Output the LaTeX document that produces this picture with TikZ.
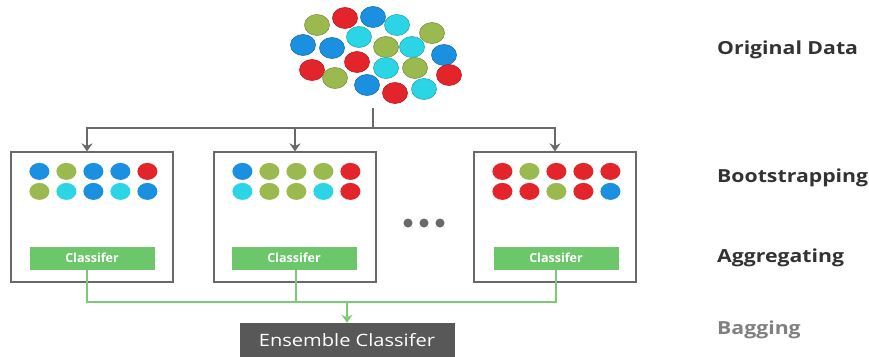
\documentclass[tikz,border=0pt]{standalone}
\usepackage{fontspec}
\setmainfont{Open Sans}
\newfontfamily\stagefont[FakeStretch=1.18]{Open Sans}
\usetikzlibrary{arrows.meta}
\definecolor{dblue}{RGB}{27,143,224}
\definecolor{dred}{RGB}{227,36,43}
\definecolor{dgreen}{RGB}{154,185,79}
\definecolor{dcyan}{RGB}{43,213,230}
\definecolor{clfgreen}{RGB}{108,199,106}
\definecolor{linegreen}{RGB}{122,203,120}
\definecolor{ensgray}{RGB}{88,88,88}
\definecolor{framegray}{RGB}{105,105,105}
\tikzstyle{sample} = [rectangle, minimum width=162pt, minimum height=130pt, draw=framegray, line width=1.2pt]
\tikzstyle{classifier} = [rectangle, minimum width=125pt, minimum height=23pt, fill=clfgreen, text=white, font=\fontsize{12.5}{14}\selectfont\bfseries]
\tikzstyle{ensemble} = [rectangle, minimum width=215pt, minimum height=34pt, fill=ensgray, text=white, font=\stagefont\fontsize{17}{20}\selectfont]
\tikzstyle{stage} = [anchor=west, inner xsep=0pt, text=black!80, font=\stagefont\fontsize{18}{21}\selectfont\bfseries]
\tikzstyle{link} = [draw=framegray, line width=1.3pt]
\tikzstyle{arrow} = [link, -{Stealth[length=8pt, width=11pt]}]
\tikzstyle{glink} = [draw=linegreen, line width=1.3pt]
\tikzstyle{garrow} = [glink, -{Stealth[length=8pt, width=11pt]}]
\newcommand{\dotrow}[3]{\foreach \c [count=\i from 0] in {#3}
  \fill[\c] ([shift={(29+27*\i,#2)}]#1.north west) ellipse [x radius=10pt, y radius=8.5pt];}

\begin{document}
\begin{tikzpicture}[x=1pt, y=-1pt]
\useasboundingbox (0,0) rectangle (869,356);
\foreach \px/\py/\c in {317/25/dgreen, 345/18/dred, 373/17/dblue, 397/25/dcyan, 432/33/dgreen,
    303/45/dblue, 332/48/dblue, 359/37/dcyan, 386/47/dgreen, 412/47/dcyan, 444/55/dblue,
    312/70/dred, 357/62/dred, 386/68/dcyan, 415/68/dgreen, 449/75/dred,
    335/78/dgreen, 367/85/dblue, 395/93/dred, 424/89/dcyan}
  \filldraw[fill=\c, draw=\c!80!black, line width=0.6pt] (\px,\py) ellipse [x radius=12.5pt, y radius=10.5pt];
\coordinate (data) at (373,108);
\coordinate (split) at (373,128);

\node (samp1) [sample] at (92,217) {};
\node (samp2) [sample] at (295,217) {};
\node (samp3) [sample] at (555,217) {};
\dotrow{samp1}{20}{dblue,dgreen,dblue,dblue,dred}
\dotrow{samp1}{40}{dgreen,dcyan,dblue,dcyan,dblue}
\dotrow{samp2}{20}{dblue,dgreen,dgreen,dgreen,dred}
\dotrow{samp2}{40}{dcyan,dgreen,dgreen,dcyan,dred}
\dotrow{samp3}{20}{dred,dgreen,dred,dred,dred}
\dotrow{samp3}{40}{dred,dred,dgreen,dred,dblue}
\foreach \px in {408,424,440}
  \fill[framegray] (\px,223) circle [radius=4.5pt];

\node (clf1) [classifier] at (92,258) {Classifer};
\node (clf2) [classifier] at (294,258) {Classifer};
\node (clf3) [classifier] at (556,258) {Classifer};
\node (ens) [ensemble] at (347,340) {Ensemble Classifer};
\coordinate (join) at (347,302);

\node (orig) [stage] at (717,50) {Original Data};
\node (boot) [stage] at (717,178) {Bootstrapping};
\node (aggr) [stage] at (717,258) {Aggregating};
\node (bag) [stage, text=black!50] at (717,330) {Bagging};

\draw [link] (data) -- (split);
\draw [arrow] (split) -| ([xshift=-5pt]samp1.north);
\draw [arrow] (split) -| (samp2);
\draw [arrow] (split) -| (samp3);
\draw [glink] ([xshift=-5pt]clf1.south) |- (join);
\draw [glink] (clf3.south) |- (join);
\draw [glink] ([xshift=2pt]clf2.south) -- ([xshift=2pt]clf2.south |- join);
\draw [garrow] (join) -- (ens);
\end{tikzpicture}
\end{document}
